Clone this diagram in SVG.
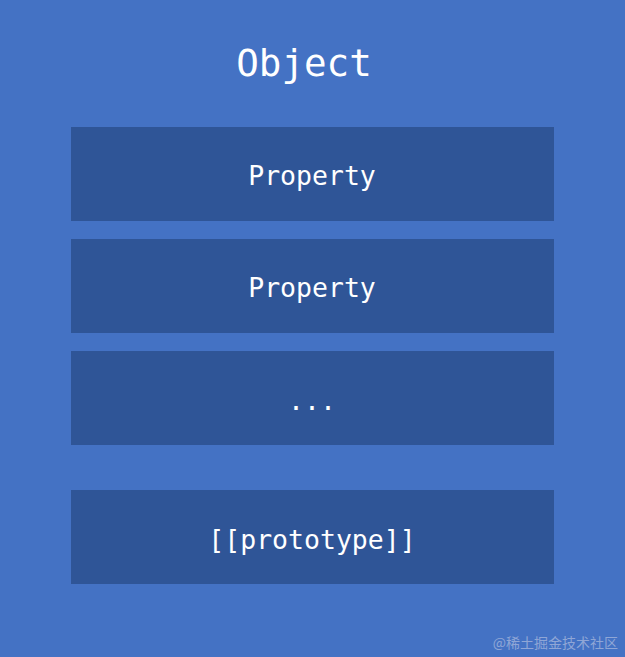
<svg xmlns="http://www.w3.org/2000/svg" width="625" height="657" viewBox="0 0 625 657">
<style>
.box{fill:#2F5597}
.t{font-family:"DejaVu Sans Mono","Liberation Mono",monospace;fill:#FFFFFF;text-anchor:middle}
.p{font-size:26.5px}
</style>
<rect x="0" y="0" width="625" height="657" fill="#4472C4"/>
<g id="title"><text class="t" x="304" y="76" font-size="37.5">Object</text></g>
<g id="prop1"><rect class="box" x="71" y="127" width="483" height="94"/><text class="t p" x="312" y="185">Property</text></g>
<g id="prop2"><rect class="box" x="71" y="239" width="483" height="94"/><text class="t p" x="312" y="297">Property</text></g>
<g id="more"><rect class="box" x="71" y="351" width="483" height="94"/><text class="t p" x="312" y="410">...</text></g>
<g id="proto"><rect class="box" x="71" y="490" width="483" height="94"/><text class="t p" x="312" y="549">[[prototype]]</text></g>
<g id="connectors"></g>
<text x="618" y="648" font-family="'Noto Sans CJK SC',sans-serif" font-size="14" fill="#8FA6D6" text-anchor="end">@稀土掘金技术社区</text>
</svg>
